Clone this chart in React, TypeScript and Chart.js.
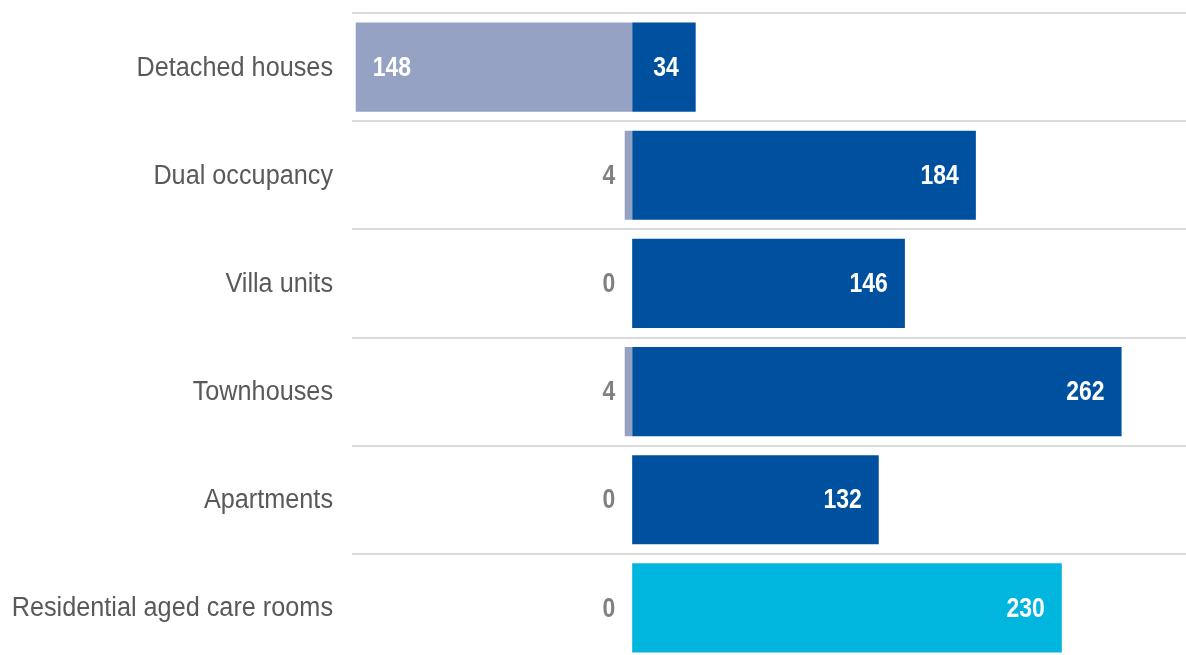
import React, { useEffect, useRef } from "react";
import { Chart, registerables } from "chart.js";

Chart.register(...registerables);

const categories = [
  "Detached houses",
  "Dual occupancy",
  "Villa units",
  "Townhouses",
  "Apartments",
  "Residential aged care rooms",
];
const leftValues = [148, 4, 0, 4, 0, 0];
const rightValues = [34, 184, 146, 262, 132, 230];
const rightColors = ["#0050a0", "#0050a0", "#0050a0", "#0050a0", "#0050a0", "#00b6df"];
const leftColor = "#95a2c4";

const W = 1186;
const H = 662;

const labelPlugin = {
  id: "customLabels",
  afterDatasetsDraw(chart: any) {
    const ctx = chart.ctx;
    ctx.save();
    // category labels
    const meta0 = chart.getDatasetMeta(0);
    meta0.data.forEach((el: any, i: number) => {
      ctx.save();
      ctx.translate(333, el.y);
      ctx.scale(0.935, 1);
      ctx.font = "27px 'Liberation Sans', Arial, sans-serif";
      ctx.fillStyle = "#595959";
      ctx.textAlign = "right";
      ctx.textBaseline = "middle";
      ctx.fillText(categories[i], 0, 1);
      ctx.restore();
    });
    // value labels
    chart.data.datasets.forEach((ds: any, di: number) => {
      const meta = chart.getDatasetMeta(di);
      const raw = di === 0 ? leftValues : rightValues;
      meta.data.forEach((el: any, i: number) => {
        const v = raw[i];
        const text = String(v);
        ctx.save();
        ctx.font = "bold 28px 'Liberation Sans', Arial, sans-serif";
        const tw = ctx.measureText(text).width * 0.82;
        const barW = Math.abs(el.x - el.base);
        let x: number;
        let align: "left" | "right";
        let color = "#ffffff";
        if (di === 0) {
          if (barW > tw + 30) {
            x = el.x + 17;
            align = "left";
          } else {
            x = el.base - 17;
            align = "right";
            color = "#808080";
          }
        } else {
          x = el.x - 17;
          align = "right";
        }
        ctx.translate(x, el.y);
        ctx.scale(0.82, 1);
        ctx.fillStyle = color;
        ctx.textAlign = align;
        ctx.textBaseline = "middle";
        ctx.fillText(text, 0, 1);
        ctx.restore();
      });
    });
    ctx.restore();
  },
};

export default function App() {
  const ref = useRef<HTMLCanvasElement | null>(null);
  useEffect(() => {
    document.body.style.margin = "0";
    const canvas = ref.current!;
    const chart = new Chart(canvas, {
      type: "bar",
      data: {
        labels: categories,
        datasets: [
          {
            label: "left",
            data: leftValues.map((v) => -v),
            backgroundColor: leftColor,
            stack: "s",
            categoryPercentage: 1,
            barPercentage: 0.825,
          },
          {
            label: "right",
            data: rightValues,
            backgroundColor: rightColors,
            stack: "s",
            categoryPercentage: 1,
            barPercentage: 0.825,
          },
        ],
      },
      options: {
        indexAxis: "y",
        responsive: false,
        animation: false,
        devicePixelRatio: 1,
        layout: { padding: { top: 13, bottom: 0, left: 0, right: 0 } },
        plugins: {
          legend: { display: false },
          tooltip: { enabled: false },
        },
        scales: {
          x: {
            display: false,
            stacked: true,
            min: -150,
            max: 296.5,
          },
          y: {
            stacked: true,
            grid: {
              offset: true,
              color: "#d9d9d9",
              lineWidth: 2,
              drawTicks: false,
            },
            border: { display: false },
            ticks: { display: false },
            afterFit(scale: any) {
              scale.width = 352;
            },
          },
        },
      },
      plugins: [labelPlugin],
    });
    return () => chart.destroy();
  }, []);
  return (
    <div style={{ width: W, height: 655, overflow: "hidden" }}>
      <canvas ref={ref} width={W} height={H} style={{ width: W, height: H, display: "block" }} />
    </div>
  );
}
